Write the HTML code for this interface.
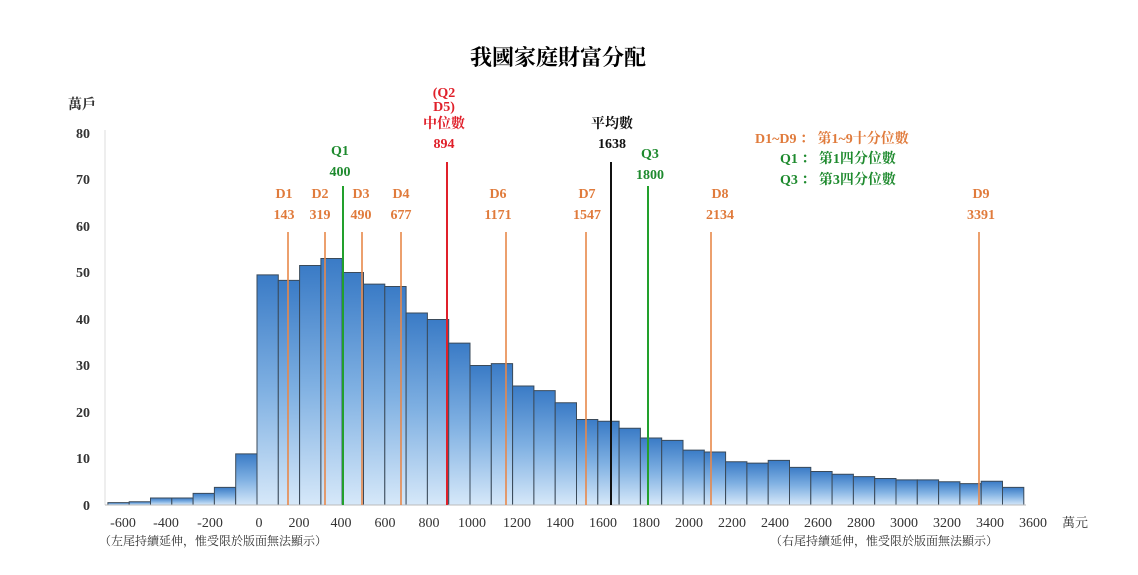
<!DOCTYPE html>
<html><head><meta charset="utf-8"><style>
body{margin:0;background:#fff;width:1138px;height:570px;overflow:hidden}
svg text{font-family:"Liberation Serif","Noto Serif CJK SC",serif}
</style></head><body>
<svg width="1138" height="570" viewBox="0 0 1138 570">
<defs>
<linearGradient id="g" x1="0" y1="1" x2="0" y2="0">
<stop offset="0" stop-color="#3a7bc6"/><stop offset="0.5" stop-color="#7fb0e2"/><stop offset="1" stop-color="#d6e8f9"/>
</linearGradient>
</defs>
<text x="558" y="65" text-anchor="middle" font-size="22" font-weight="bold">我國家庭財富分配</text>
<text x="68" y="109" font-size="14" font-weight="bold" fill="#333">萬戶</text>
<g font-size="14" fill="#333" text-anchor="end" font-weight="bold">
<text x="90" y="510">0</text><text x="90" y="463">10</text><text x="90" y="417">20</text><text x="90" y="370">30</text><text x="90" y="324">40</text><text x="90" y="277">50</text><text x="90" y="231">60</text><text x="90" y="184">70</text><text x="90" y="138">80</text>
</g>
<line x1="105" y1="130" x2="105" y2="505" stroke="#ddd"/>
<g transform="translate(257,505) scale(0.213,-4.65)" fill="url(#g)" stroke="#3a4a5a" stroke-width="1">
<rect vector-effect="non-scaling-stroke" x="-700" width="100" height="0.5"/>
<rect vector-effect="non-scaling-stroke" x="-600" width="100" height="0.7"/>
<rect vector-effect="non-scaling-stroke" x="-500" width="100" height="1.5"/>
<rect vector-effect="non-scaling-stroke" x="-400" width="100" height="1.5"/>
<rect vector-effect="non-scaling-stroke" x="-300" width="100" height="2.5"/>
<rect vector-effect="non-scaling-stroke" x="-200" width="100" height="3.8"/>
<rect vector-effect="non-scaling-stroke" x="-100" width="100" height="11"/>
<rect vector-effect="non-scaling-stroke" x="0" width="100" height="49.5"/>
<rect vector-effect="non-scaling-stroke" x="100" width="100" height="48.3"/>
<rect vector-effect="non-scaling-stroke" x="200" width="100" height="51.5"/>
<rect vector-effect="non-scaling-stroke" x="300" width="100" height="53"/>
<rect vector-effect="non-scaling-stroke" x="400" width="100" height="50"/>
<rect vector-effect="non-scaling-stroke" x="500" width="100" height="47.5"/>
<rect vector-effect="non-scaling-stroke" x="600" width="100" height="47"/>
<rect vector-effect="non-scaling-stroke" x="700" width="100" height="41.3"/>
<rect vector-effect="non-scaling-stroke" x="800" width="100" height="39.9"/>
<rect vector-effect="non-scaling-stroke" x="900" width="100" height="34.8"/>
<rect vector-effect="non-scaling-stroke" x="1000" width="100" height="30"/>
<rect vector-effect="non-scaling-stroke" x="1100" width="100" height="30.4"/>
<rect vector-effect="non-scaling-stroke" x="1200" width="100" height="25.6"/>
<rect vector-effect="non-scaling-stroke" x="1300" width="100" height="24.6"/>
<rect vector-effect="non-scaling-stroke" x="1400" width="100" height="22"/>
<rect vector-effect="non-scaling-stroke" x="1500" width="100" height="18.4"/>
<rect vector-effect="non-scaling-stroke" x="1600" width="100" height="18"/>
<rect vector-effect="non-scaling-stroke" x="1700" width="100" height="16.5"/>
<rect vector-effect="non-scaling-stroke" x="1800" width="100" height="14.4"/>
<rect vector-effect="non-scaling-stroke" x="1900" width="100" height="13.9"/>
<rect vector-effect="non-scaling-stroke" x="2000" width="100" height="11.8"/>
<rect vector-effect="non-scaling-stroke" x="2100" width="100" height="11.4"/>
<rect vector-effect="non-scaling-stroke" x="2200" width="100" height="9.3"/>
<rect vector-effect="non-scaling-stroke" x="2300" width="100" height="9"/>
<rect vector-effect="non-scaling-stroke" x="2400" width="100" height="9.6"/>
<rect vector-effect="non-scaling-stroke" x="2500" width="100" height="8.1"/>
<rect vector-effect="non-scaling-stroke" x="2600" width="100" height="7.2"/>
<rect vector-effect="non-scaling-stroke" x="2700" width="100" height="6.6"/>
<rect vector-effect="non-scaling-stroke" x="2800" width="100" height="6.1"/>
<rect vector-effect="non-scaling-stroke" x="2900" width="100" height="5.7"/>
<rect vector-effect="non-scaling-stroke" x="3000" width="100" height="5.4"/>
<rect vector-effect="non-scaling-stroke" x="3100" width="100" height="5.4"/>
<rect vector-effect="non-scaling-stroke" x="3200" width="100" height="5"/>
<rect vector-effect="non-scaling-stroke" x="3300" width="100" height="4.6"/>
<rect vector-effect="non-scaling-stroke" x="3400" width="100" height="5.1"/>
<rect vector-effect="non-scaling-stroke" x="3500" width="100" height="3.8"/>
</g>
<line x1="105" y1="505" x2="1026" y2="505" stroke="#bbb"/>
<g stroke-width="1.6">
<line x1="288" y1="232" x2="288" y2="505" stroke="#e8884a"/>
<line x1="325" y1="232" x2="325" y2="505" stroke="#e8884a"/>
<line x1="362" y1="232" x2="362" y2="505" stroke="#e8884a"/>
<line x1="401" y1="232" x2="401" y2="505" stroke="#e8884a"/>
<line x1="506" y1="232" x2="506" y2="505" stroke="#e8884a"/>
<line x1="586" y1="232" x2="586" y2="505" stroke="#e8884a"/>
<line x1="711" y1="232" x2="711" y2="505" stroke="#e8884a"/>
<line x1="979" y1="232" x2="979" y2="505" stroke="#e8884a"/>
<line x1="343" y1="186" x2="343" y2="505" stroke="#22a02c" stroke-width="2"/>
<line x1="648" y1="186" x2="648" y2="505" stroke="#22a02c" stroke-width="2"/>
<line x1="447" y1="162" x2="447" y2="505" stroke="#e0202a" stroke-width="2"/>
<line x1="611" y1="162" x2="611" y2="505" stroke="#111" stroke-width="2"/>
</g>
<g font-size="14" font-weight="bold" text-anchor="middle">
<g fill="#e07b3c">
<text x="284" y="198">D1</text><text x="284" y="219">143</text>
<text x="320" y="198">D2</text><text x="320" y="219">319</text>
<text x="361" y="198">D3</text><text x="361" y="219">490</text>
<text x="401" y="198">D4</text><text x="401" y="219">677</text>
<text x="498" y="198">D6</text><text x="498" y="219">1171</text>
<text x="587" y="198">D7</text><text x="587" y="219">1547</text>
<text x="720" y="198">D8</text><text x="720" y="219">2134</text>
<text x="981" y="198">D9</text><text x="981" y="219">3391</text>
</g>
<g fill="#1e8a2e"><text x="340" y="155">Q1</text><text x="340" y="176">400</text>
<text x="650" y="158">Q3</text><text x="650" y="179">1800</text></g>
<g fill="#e0202a"><text x="444" y="97">(Q2</text><text x="444" y="111">D5)</text><text x="444" y="128">中位數</text><text x="444" y="148">894</text></g>
<g fill="#111"><text x="612" y="128">平均數</text><text x="612" y="148">1638</text></g>
</g>
<g font-size="14" font-weight="bold">
<text x="755" y="143" fill="#e07b3c">D1~D9 ： 第1~9十分位數</text>
<text x="780" y="163" fill="#1e8a2e">Q1  ： 第1四分位數</text>
<text x="780" y="184" fill="#1e8a2e">Q3  ： 第3四分位數</text>
</g>
<g font-size="14" fill="#333" text-anchor="middle">
<text x="123" y="527">-600</text><text x="166" y="527">-400</text><text x="210" y="527">-200</text><text x="259" y="527">0</text><text x="299" y="527">200</text><text x="341" y="527">400</text><text x="385" y="527">600</text><text x="429" y="527">800</text><text x="472" y="527">1000</text><text x="517" y="527">1200</text><text x="560" y="527">1400</text><text x="603" y="527">1600</text><text x="646" y="527">1800</text><text x="689" y="527">2000</text><text x="732" y="527">2200</text><text x="775" y="527">2400</text><text x="818" y="527">2600</text><text x="861" y="527">2800</text><text x="904" y="527">3000</text><text x="947" y="527">3200</text><text x="990" y="527">3400</text><text x="1033" y="527">3600</text>
</g>
<text x="1062" y="527" font-size="13" fill="#333">萬元</text>
<text x="99" y="545" font-size="12" fill="#333">（左尾持續延伸，惟受限於版面無法顯示）</text>
<text x="770" y="545" font-size="12" fill="#333">（右尾持續延伸，惟受限於版面無法顯示）</text>
</svg>
</body></html>
